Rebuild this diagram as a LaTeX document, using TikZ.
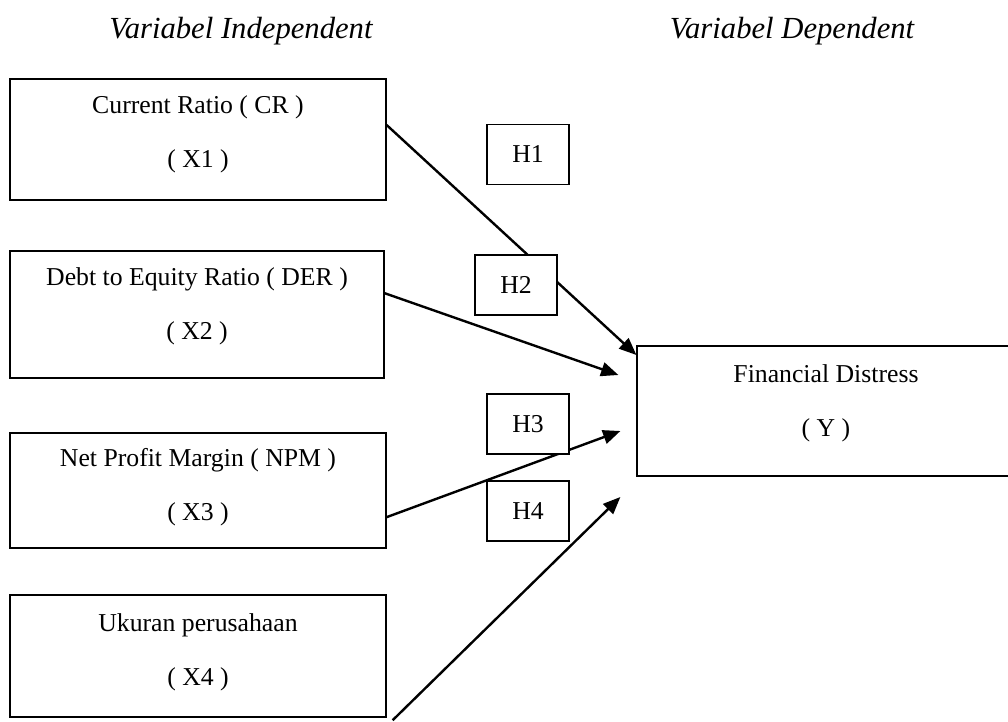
\documentclass[tikz,border=0pt]{standalone}
\usepackage{fontspec}
\setmainfont{Liberation Serif}
\usetikzlibrary{arrows.meta}
\pgfdeclarelayer{edgelayer}
\pgfdeclarelayer{nodelayer}
\pgfsetlayers{edgelayer,nodelayer,main}
\tikzstyle{varbox}=[rectangle, draw=black, line width=0.9pt, align=center, font=\fontsize{19.3}{40.5}\selectfont]
\tikzstyle{hypbox}=[rectangle, fill=white, draw=black, line width=0.9pt, minimum width=61.5pt, minimum height=45pt, font=\fontsize{19.3}{23}\selectfont]
\tikzstyle{heading}=[font=\fontsize{23}{28}\selectfont\itshape]
\tikzstyle{edge}=[draw=black, line width=1.8pt, -{Triangle[length=13pt,width=10.5pt]}]

\begin{document}
\begin{tikzpicture}[x=0.75pt, y=-0.75pt]
\useasboundingbox (0,0) rectangle (1008,722);
						\begin{pgfonlayer}{nodelayer}
							\node [style=heading] (indep) at (241, 31) {Variabel Independent};
							\node [style=heading] (dep) at (792, 31) {Variabel Dependent};
							\node [style=varbox, minimum width=282pt, minimum height=90.75pt, text depth=11.7pt] (x1) at (198, 139.5) {Current Ratio ( CR )\\( X1 )};
							\node [style=varbox, minimum width=280.5pt, minimum height=95.25pt, text depth=16.2pt] (x2) at (197, 314.5) {Debt to Equity Ratio ( DER )\\( X2 )};
							\node [style=varbox, minimum width=282pt, minimum height=86.25pt, text depth=8.7pt] (x3) at (198, 490.5) {Net Profit Margin ( NPM )\\( X3 )};
							\node [style=varbox, minimum width=282pt, minimum height=91.5pt, text depth=10.2pt] (x4) at (198, 656) {Ukuran perusahaan\\( X4 )};
							\node [style=varbox, minimum width=283.5pt, minimum height=97.5pt, text depth=16.2pt] (y) at (826, 411) {Financial Distress\\( Y )};
							\node [style=hypbox] (h1) at (528, 154.5) {H1};
							\node [style=hypbox] (h2) at (516, 285) {H2};
							\node [style=hypbox] (h3) at (528, 424) {H3};
							\node [style=hypbox] (h4) at (528, 511) {H4};
						\end{pgfonlayer}
						\begin{pgfonlayer}{edgelayer}
							\draw [style=edge] ([yshift=10.9pt]x1.east) to ([yshift=42pt]y.west);
							\draw [style=edge] ([yshift=16pt]x2.east) to ([xshift=-13.5pt, yshift=27pt]y.west);
							\draw [style=edge] ([yshift=-20pt]x3.east) to ([xshift=-12pt, yshift=-15pt]y.west);
							\draw [style=edge] ([xshift=4.5pt, yshift=-2pt]x4.south east) to ([xshift=-12pt, yshift=-64.5pt]y.west);
						\end{pgfonlayer}
					\end{tikzpicture}
\end{document}
